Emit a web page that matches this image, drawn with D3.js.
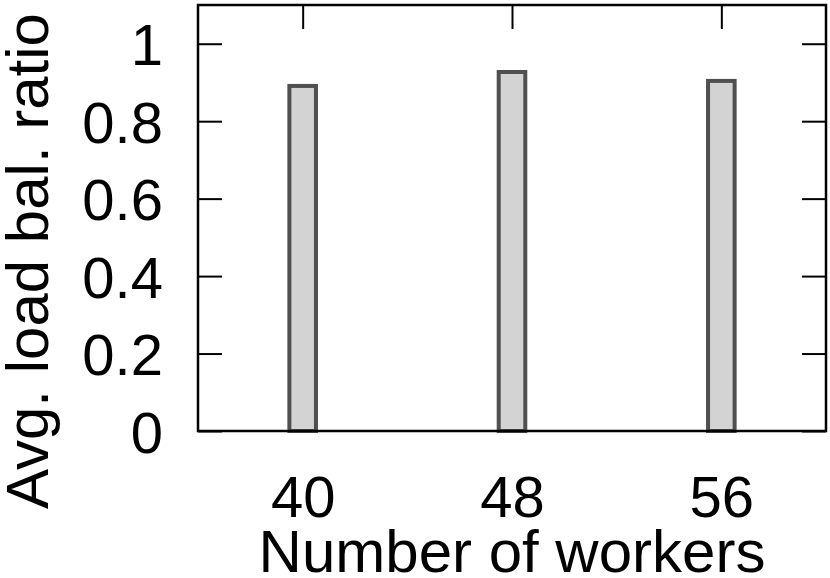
<!DOCTYPE html>
<html lang="en">
<head>
  <meta charset="utf-8">
  <title>Avg. load bal. ratio</title>
  <script src="https://d3js.org/d3.v7.min.js"></script>
  <style>
    body { margin: 0; background: #fff; }
    text { font-family: "Liberation Sans", Arial, Helvetica, sans-serif; fill: #000; }
  </style>
</head>
<body>
  <script type="text/javascript">
    // data
    var workers = ["40", "48", "56"];
    var ratio = [0.891, 0.927, 0.904];
    var yTicks = [0, 0.2, 0.4, 0.6, 0.8, 1];

    var width = 830, height = 578;
    var plotL = 198, plotR = 826, plotT = 5, plotB = 431;
    var tickLen = 24;
    var boxWidth = 0.127;

    var svg = d3.select("body").append("svg")
      .attr("width", width).attr("height", height);

    var x = d3.scaleLinear().domain([-0.5, workers.length - 0.5]).range([plotL, plotR]);
    var y = d3.scaleLinear().domain([0, 1.1]).range([plotB, plotT]);

    // y ticks, left and mirrored on the right
    var yAxisL = d3.axisLeft(y).tickValues(yTicks).tickSize(-tickLen).tickPadding(35)
      .tickFormat(function(d) { return d3.format("~g")(d); });
    var gL = svg.append("g").attr("transform", "translate(" + plotL + ",0)").call(yAxisL);
    gL.select(".domain").remove();
    gL.selectAll("line").attr("stroke", "#000").attr("stroke-width", 2);
    gL.selectAll("text").attr("font-size", 58).attr("dy", 21).attr("font-family", null);

    var gR = svg.append("g").attr("transform", "translate(" + plotR + ",0)")
      .call(d3.axisRight(y).tickValues(yTicks).tickSize(-tickLen).tickFormat(""));
    gR.select(".domain").remove();
    gR.selectAll("line").attr("stroke", "#000").attr("stroke-width", 2);

    // x ticks, bottom and mirrored on top
    var xIdx = workers.map(function(d, i) { return i; });
    var gB = svg.append("g").attr("transform", "translate(0," + plotB + ")")
      .call(d3.axisBottom(x).tickValues(xIdx).tickSize(-tickLen).tickPadding(86)
        .tickFormat(function(i) { return workers[i]; }));
    gB.select(".domain").remove();
    gB.selectAll("line").attr("stroke", "#000").attr("stroke-width", 2);
    gB.selectAll("text").attr("font-size", 58).attr("dy", 0).attr("font-family", null);

    var gT = svg.append("g").attr("transform", "translate(0," + plotT + ")")
      .call(d3.axisTop(x).tickValues(xIdx).tickSize(-tickLen).tickFormat(""));
    gT.select(".domain").remove();
    gT.selectAll("line").attr("stroke", "#000").attr("stroke-width", 2);

    // bars (drawn over the bottom ticks)
    svg.selectAll("rect.bar").data(ratio).enter().append("rect")
      .attr("class", "bar")
      .attr("x", function(d, i) { return x(i - boxWidth / 2); })
      .attr("width", x(boxWidth) - x(0))
      .attr("y", function(d) { return y(d); })
      .attr("height", function(d) { return y(0) - y(d); })
      .attr("fill", "#d3d3d3")
      .attr("stroke", "#505050")
      .attr("stroke-width", 4);

    // frame
    svg.append("rect")
      .attr("x", plotL).attr("y", plotT)
      .attr("width", plotR - plotL).attr("height", plotB - plotT)
      .attr("fill", "none").attr("stroke", "#000").attr("stroke-width", 2.5);

    // axis titles
    svg.append("text")
      .attr("x", (plotL + plotR) / 2).attr("y", 572)
      .attr("text-anchor", "middle").attr("font-size", 60)
      .text("Number of workers");

    svg.append("text")
      .attr("transform", "translate(48,261) rotate(-90)")
      .attr("text-anchor", "middle").attr("font-size", 60)
      .text("Avg. load bal. ratio");
  </script>
</body>
</html>
